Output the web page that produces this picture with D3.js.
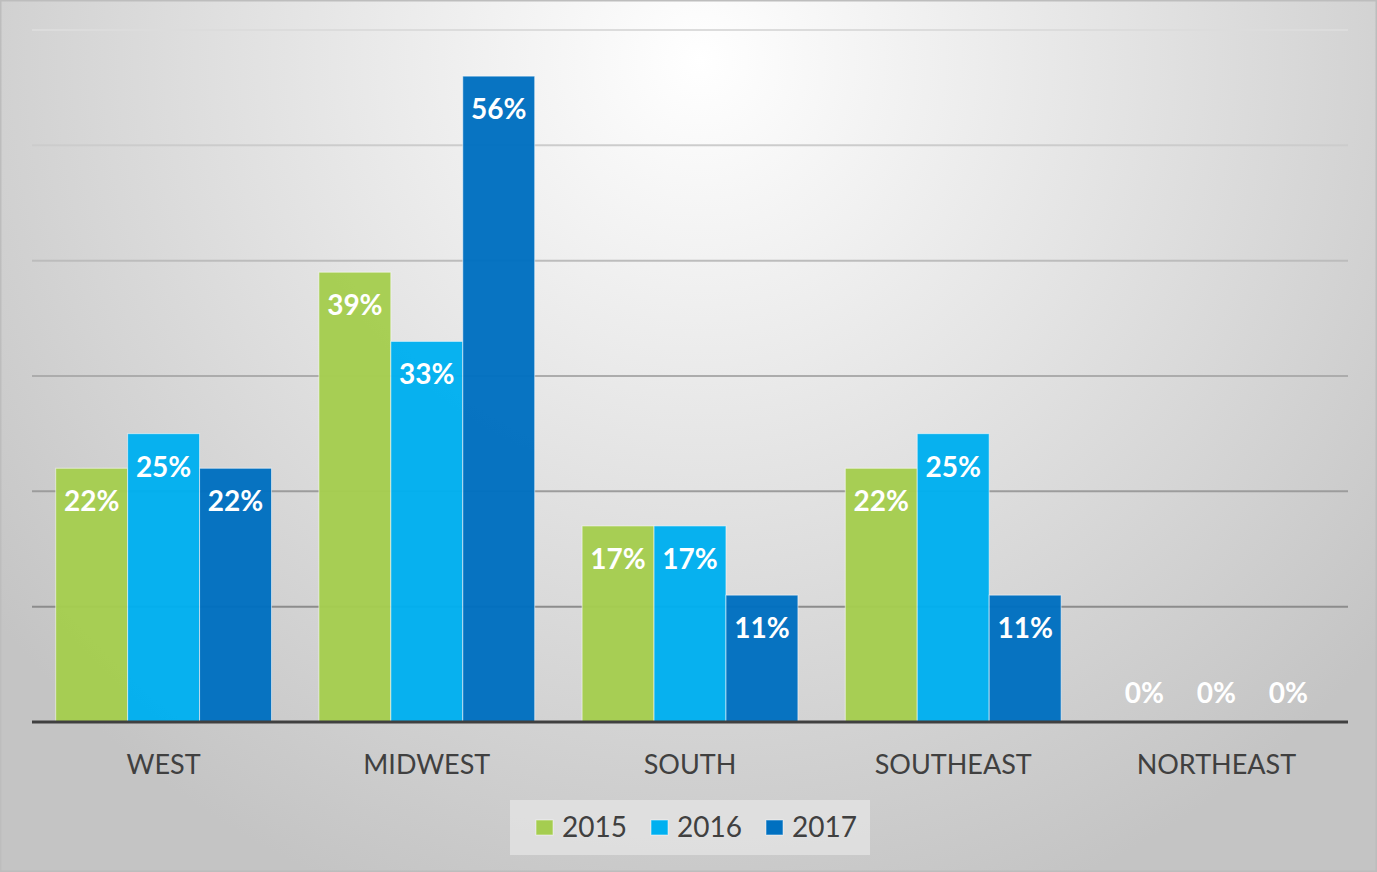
<!DOCTYPE html>
<html>
<head>
<meta charset="utf-8">
<script src="https://cdn.jsdelivr.net/npm/d3@7"></script>
<style>
    html, body { margin: 0; padding: 0; background: #fff; }
    svg { display: block; }
</style>
</head>
<body>
<div id="chart"></div>
<script>
const regions = ['WEST', 'MIDWEST', 'SOUTH', 'SOUTHEAST', 'NORTHEAST'];
const years = ['2015', '2016', '2017'];
const values2015 = [22, 39, 17, 22, 0];
const values2016 = [25, 33, 17, 25, 0];
const values2017 = [22, 56, 11, 11, 0];
const gridTicks = [0, 10, 20, 30, 40, 50, 60];

const seriesValues = {'2015': values2015, '2016': values2016, '2017': values2017};
const rows = regions.map((r, i) => ({region: r, values: years.map(y => ({year: y, value: seriesValues[y][i]}))}));

const svgWidth = 1377;
const svgHeight = 872;
const margins = {t: 30, r: 29, b: 150, l: 32};
const graphWidth = svgWidth - margins.l - margins.r;
const graphHeight = svgHeight - margins.t - margins.b;

const svg = d3.select('#chart')
    .append('svg')
    .attr('width', svgWidth)
    .attr('height', svgHeight);

// background: radial gradient, lighter near the top centre
const defs = svg.append('defs');
const bg = defs.append('radialGradient')
    .attr('id', 'bg')
    .attr('gradientUnits', 'userSpaceOnUse')
    .attr('cx', 700).attr('cy', 60).attr('r', 900);
bg.append('stop').attr('offset', '0%').attr('stop-color', '#ffffff');
bg.append('stop').attr('offset', '100%').attr('stop-color', '#c4c4c4');

svg.append('rect')
    .attr('x', 0.5).attr('y', 0.5)
    .attr('width', svgWidth - 1).attr('height', svgHeight - 1)
    .attr('fill', 'url(#bg)')
    .attr('stroke', '#bdbdbd')
    .attr('stroke-width', 2);

const g = svg.append('g').attr('transform', `translate(${margins.l},${margins.t})`);

const x0 = d3.scaleBand().domain(regions).range([0, graphWidth]).paddingInner(0.18).paddingOuter(0.09);
const x1 = d3.scaleBand().domain(years).range([0, x0.bandwidth()]);
const y = d3.scaleLinear().domain([0, 60]).range([graphHeight, 0]);
const color = d3.scaleOrdinal().domain(years).range(['#a5cd50', '#00b0f0', '#0070c0']);
const gridColor = d3.scaleLinear().domain([10, 60]).range(['#8c8c8c', '#dcdcdc']);

// gridlines
g.selectAll('line.grid')
    .data(gridTicks.filter(d => d > 0))
    .join('line')
    .attr('class', 'grid')
    .attr('x1', 0).attr('x2', graphWidth)
    .attr('y1', d => y(d)).attr('y2', d => y(d))
    .attr('stroke', d => gridColor(d))
    .attr('stroke-width', 2);

// bars
const groups = g.selectAll('g.group')
    .data(rows)
    .join('g')
    .attr('class', 'group')
    .attr('transform', d => `translate(${x0(d.region)},0)`);

groups.selectAll('rect')
    .data(d => d.values)
    .join('rect')
    .attr('x', d => x1(d.year))
    .attr('y', d => y(d.value))
    .attr('width', x1.bandwidth())
    .attr('height', d => graphHeight - y(d.value))
    .attr('fill', d => color(d.year))
    .attr('fill-opacity', 0.97)
    .attr('stroke', 'rgba(255,255,255,0.55)')
    .attr('stroke-width', 1);

groups.selectAll('text.value')
    .data(d => d.values)
    .join('text')
    .attr('class', 'value')
    .attr('x', d => x1(d.year) + x1.bandwidth() / 2)
    .attr('y', d => d.value > 0 ? y(d.value) + 43 : y(0) - 19)
    .attr('text-anchor', 'middle')
    .style('font-family', 'Lato, "Open Sans", sans-serif')
    .style('font-weight', 'bold')
    .style('font-size', '28px')
    .style('fill', 'white')
    .text(d => d.value + '%');

// x axis baseline
g.append('line')
    .attr('x1', 0).attr('x2', graphWidth)
    .attr('y1', graphHeight).attr('y2', graphHeight)
    .attr('stroke', '#404040')
    .attr('stroke-width', 3);

const xAxis = g.append('g')
    .attr('transform', `translate(0,${graphHeight})`)
    .call(d3.axisBottom(x0).tickSize(0).tickPadding(0));
xAxis.select('.domain').remove();
xAxis.selectAll('text')
    .attr('dy', null)
    .attr('y', 52)
    .style('font-family', 'Lato, "Open Sans", sans-serif')
    .style('font-size', '27px')
    .style('fill', '#404040');

// legend
const legend = svg.append('g').attr('transform', 'translate(510,800)');
legend.append('rect')
    .attr('width', 360).attr('height', 55)
    .attr('fill', '#e2e2e2')
    .attr('fill-opacity', 0.85);

const item = legend.selectAll('g.item')
    .data(years)
    .join('g')
    .attr('class', 'item')
    .attr('transform', (d, i) => `translate(${26 + i * 115},0)`);

item.append('rect')
    .attr('x', 0).attr('y', 20)
    .attr('width', 17).attr('height', 15)
    .attr('fill', d => color(d))
    .attr('stroke', 'rgba(255,255,255,0.5)');

item.append('text')
    .attr('x', 26).attr('y', 37)
    .style('font-family', 'Lato, "Open Sans", sans-serif')
    .style('font-size', '28px')
    .style('fill', '#404040')
    .text(d => d);
</script>
</body>
</html>
